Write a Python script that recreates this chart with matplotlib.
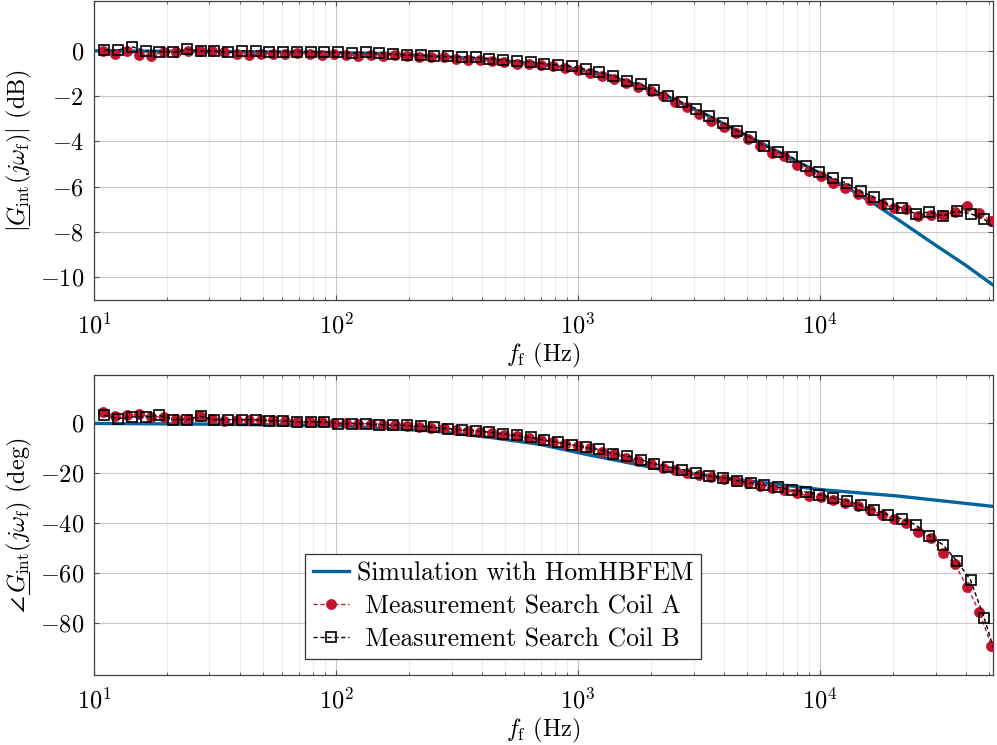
import matplotlib
matplotlib.use('Agg')
import matplotlib.pyplot as plt
from matplotlib.lines import Line2D
from matplotlib.ticker import NullFormatter

plt.rcParams.update({'font.family': 'cmr10', 'mathtext.fontset': 'cm',
                     'axes.formatter.use_mathtext': True, 'font.size': 17.5})

# simulation (HomHBFEM)
sim_mag_freq = [10, 30, 100, 200, 400, 700, 1000, 1600, 2300, 3500, 5000, 7600, 10000,
                13000, 17000, 22000, 30000, 40000, 52000]
sim_mag = [0.0, -0.03, -0.08, -0.17, -0.36, -0.6, -0.82, -1.35, -2.0, -2.9, -3.75, -4.75, -5.4,
           -6.05, -6.8, -7.6, -8.58, -9.47, -10.35]
sim_ph_freq = [10, 30, 100, 160, 250, 435, 700, 1125, 1545, 2120, 2910, 5480, 10300, 20700, 52000]
sim_ph = [-0.3, -0.6, -1.2, -2.3, -3.3, -5.9, -8.7, -13.0, -15.6, -18.3, -20.3, -23.6, -26.8,
          -29.2, -33.4]

# measurement search coil A
coil_a_freq = [10.86, 12.2, 13.7, 15.38, 17.27, 19.39, 21.77, 24.44, 27.44, 30.81, 34.59, 38.84,
               43.61, 48.96, 54.97, 61.72, 69.3, 77.81, 87.36, 98.1, 110.2, 123.7, 138.9, 155.9,
               175.1, 196.6, 220.7, 247.8, 278.3, 312.4, 350.8, 393.9, 442.2, 496.5, 557.5, 626.0,
               702.8, 789.1, 886.0, 994.7, 1117, 1254, 1408, 1581, 1775, 1993, 2238, 2513, 2821,
               3168, 3556, 3993, 4484, 5034, 5652, 6346, 7126, 8001, 8983, 10090, 11320, 12720,
               14280, 16030, 18000, 20210, 22690, 25480, 28610, 32120, 36060, 40490, 45460, 51040]
coil_a_mag = [0.0, -0.12, 0.0, -0.18, -0.22, -0.03, -0.07, 0.0, 0.0, 0.0, -0.03, -0.12,
              -0.18, -0.15, -0.12, -0.15, -0.10, -0.15, -0.18, -0.15, -0.19, -0.22, -0.18, -0.22,
              -0.19, -0.22, -0.26, -0.29, -0.29, -0.37, -0.41, -0.41, -0.44, -0.48, -0.56, -0.60,
              -0.61, -0.66, -0.76, -0.85, -0.98, -1.10, -1.25, -1.40, -1.59, -1.76, -1.98, -2.25, -2.50,
              -2.79, -3.10, -3.36, -3.64, -3.89, -4.19, -4.51, -4.66, -5.04, -5.29, -5.54, -5.84, -6.06,
              -6.31, -6.58, -6.75, -6.93, -7.00, -7.27, -7.24, -7.24, -7.12, -6.87, -7.17, -7.52]
coil_a_ph = [4.3, 2.5, 2.9, 3.3, 2.3, 2.3, 1.6, 1.6, 2.5, 1.6, 0.7, 0.9,
             1.2, 0.9, 0.9, 0.7, 0.3, 0.3, 0.3, 0.0, 0.0, -0.4, -0.4, -0.8,
             -1.1, -1.5, -1.7, -2.0, -2.1, -2.8, -3.3, -3.7, -4.1, -4.8, -5.5, -6.0,
             -7.1, -7.7, -8.4, -9.3, -10.3, -11.5, -12.6, -14.1, -15.4, -16.6, -18.0, -18.9, -20.1,
             -20.9, -21.8, -22.6, -23.3, -24.2, -25.3, -25.9, -26.8, -28.1, -29.2, -29.6, -31.0, -32.1,
             -33.1, -34.7, -36.7, -38.4, -40.0, -43.7, -45.9, -51.9, -56.5, -65.4, -75.4, -88.9]

# measurement search coil B (last point lies just past the right edge)
coil_b_freq = [11.04, 12.59, 14.34, 16.35, 18.63, 21.23, 24.2, 27.58, 31.43, 35.83, 40.83, 46.54,
               53.04, 60.45, 68.89, 78.52, 89.49, 102.0, 116.2, 132.5, 151.0, 172.1, 196.1, 223.5,
               254.8, 290.4, 331.0, 377.2, 429.9, 490.0, 558.5, 636.5, 725.4, 826.8, 942.3, 1074,
               1224, 1395, 1590, 1812, 2065, 2354, 2683, 3058, 3485, 3972, 4527, 5159, 5880, 6702,
               7638, 8705, 9922, 11310, 12890, 14690, 16740, 19080, 21750, 24790, 28250, 32200,
               36700, 41820, 47670, 56500]
coil_b_mag = [0.03, 0.04, 0.18, 0.0, -0.03, -0.07, 0.07, -0.01, -0.01, -0.07, 0.0, 0.0,
              -0.03, -0.03, -0.03, -0.04, -0.04, -0.07, -0.1, -0.07, -0.1, -0.15, -0.19, -0.19,
              -0.24, -0.25, -0.26, -0.29, -0.34, -0.40, -0.44, -0.48, -0.57, -0.63, -0.69, -0.81,
              -0.95, -1.10, -1.32, -1.47, -1.73, -1.98, -2.27, -2.55, -2.86, -3.20, -3.52, -3.82, -4.19,
              -4.45, -4.70, -5.07, -5.36, -5.62, -5.84, -6.21, -6.46, -6.78, -6.93, -7.19, -7.12, -7.28,
              -7.09, -7.19, -7.43, -8.17]
coil_b_ph = [2.9, 1.6, 2.3, 2.3, 2.9, 1.2, 1.2, 2.5, 1.2, 1.2, 1.2, 1.2,
             0.7, 0.7, 0.3, 0.3, 0.3, -0.4, -0.4, -0.4, -0.8, -1.0, -1.1, -1.4,
             -1.9, -2.4, -2.8, -3.2, -3.8, -4.4, -5.1, -5.9, -6.9, -7.8, -8.8, -9.9,
             -10.7, -12.3, -13.3, -14.7, -16.4, -17.6, -18.7, -20.0, -21.3, -22.0, -23.1, -24.0, -24.9,
             -25.7, -26.9, -27.6, -28.7, -30.0, -31.1, -32.9, -34.7, -36.7, -38.4, -40.7, -45.1, -48.7,
             -55.1, -62.7, -78.0, -101.0]

blue = '#00649f'
red = '#c0142f'


def style_axis(ax):
    ax.set_xscale('log')
    ax.set_xlim(10, 51800)
    ax.grid(True, which='major', color='#c8c8c8', lw=0.8)
    ax.grid(True, which='minor', axis='x', color='#ececec', lw=0.8)
    ax.set_axisbelow(True)
    ax.tick_params(which='both', direction='in', top=True, right=True, color='#505050')
    ax.tick_params(which='major', length=3.5, pad=7)
    ax.tick_params(axis='x', which='major', pad=9)
    ax.tick_params(which='minor', length=2)
    ax.xaxis.set_minor_formatter(NullFormatter())
    for s in ax.spines.values():
        s.set_color('#404040')
        s.set_linewidth(0.9)
    ax.set_xlabel(r'$f_{\mathrm{f}}$ (Hz)', labelpad=2)


def underline_G(fig, ax, prefix, renderer):
    # mathtext has no \underline, so draw the bar under G by hand
    lab = ax.yaxis.label
    bb = lab.get_window_extent(renderer)
    prop = lab.get_fontproperties()
    w0, _, _ = renderer.get_text_width_height_descent(prefix, prop, ismath=True)
    w1, _, _ = renderer.get_text_width_height_descent(prefix[:-1] + 'G$', prop, ismath=True)
    _, _, d = renderer.get_text_width_height_descent(lab.get_text(), prop, ismath=True)
    x = bb.x1 - d + 3.5
    W, H = fig.canvas.get_width_height()
    fig.add_artist(Line2D([x / W, x / W], [(bb.y0 + w0 + 1) / H, (bb.y0 + w1) / H],
                          color='black', lw=0.8, transform=fig.transFigure))


fig = plt.figure(figsize=(9.97, 7.45), dpi=100)
ax1 = fig.add_axes([94 / 997, 1 - 300 / 745, 899 / 997, 299 / 745])
ax2 = fig.add_axes([94 / 997, 1 - 675 / 745, 899 / 997, 300 / 745])

for ax, sf, sv, av, bv in [(ax1, sim_mag_freq, sim_mag, coil_a_mag, coil_b_mag),
                           (ax2, sim_ph_freq, sim_ph, coil_a_ph, coil_b_ph)]:
    style_axis(ax)
    ax.plot(sf, sv, color=blue, lw=2.4, label='Simulation with HomHBFEM', zorder=2)
    ax.plot(coil_a_freq, av, color=red, ls=(0, (3, 2)), lw=1.0, marker='o', ms=7.8, mew=0,
            mfc=red, label=' Measurement Search Coil A', zorder=3)
    ax.plot(coil_b_freq, bv, color='black', ls=(0, (3, 2)), lw=1.0, marker='s', ms=6.8, mew=1.2,
            mfc='none', mec='black', label=' Measurement Search Coil B', zorder=4)

ax1.set_ylim(-11, 2.2)
ax1.set_yticks([-10, -8, -6, -4, -2, 0])
ax1.set_ylabel(r'$|G_{\mathrm{int}}(j\omega_{\mathrm{f}})|$ (dB)', labelpad=4)

ax2.set_ylim(-100.6, 19)
ax2.set_yticks([-80, -60, -40, -20, 0])
ax2.set_ylabel(r'$\angle\,G_{\mathrm{int}}(j\omega_{\mathrm{f}})$ (deg)', labelpad=4)

leg = ax2.legend(loc='lower left', bbox_to_anchor=(0.235, 0.053), fontsize=18.5, fancybox=False,
                 edgecolor='#333333', framealpha=1, borderpad=0.3, labelspacing=0.36,
                 handlelength=1.4, handletextpad=0.3, borderaxespad=0)
leg.get_frame().set_linewidth(0.9)

fig.canvas.draw()
rend = fig.canvas.get_renderer()
underline_G(fig, ax1, r'$|$', rend)
underline_G(fig, ax2, r'$\angle\,$', rend)

fig.savefig('out.png', dpi=100)
